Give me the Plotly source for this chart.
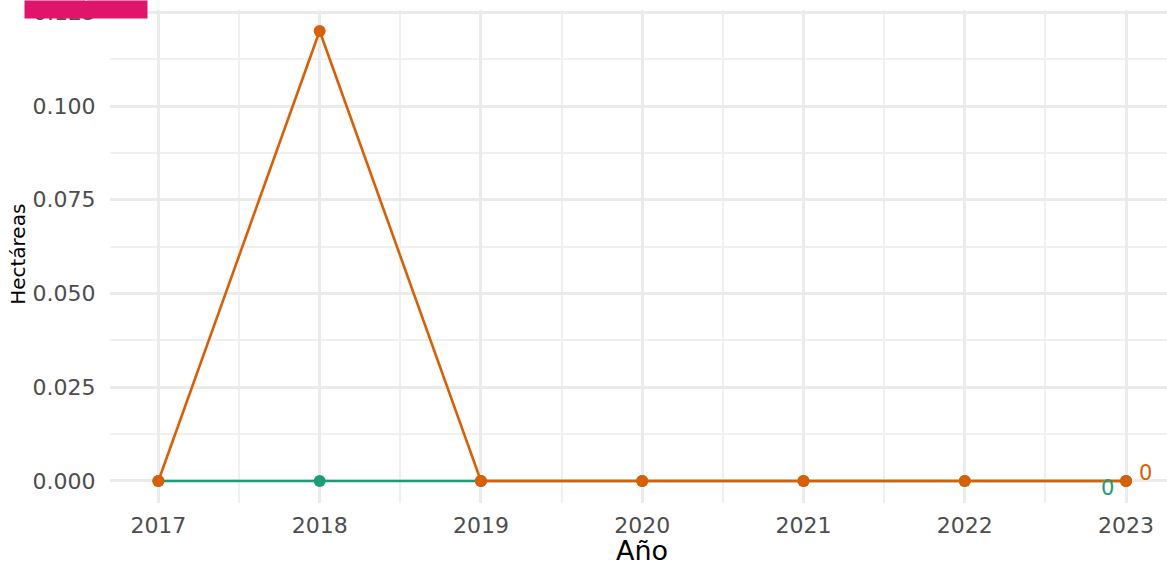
import plotly.graph_objects as go

years = [2017, 2018, 2019, 2020, 2021, 2022, 2023]
serie_verde = [0, 0, 0, 0, 0, 0, 0]
serie_naranja = [0, 0.12, 0, 0, 0, 0, 0]
y_ticks = [0, 0.025, 0.05, 0.075, 0.1, 0.125]
y_labels = ["0.000", "0.025", "0.050", "0.075", "0.100", "0.125"]
VERDE = "#1B9E77"
NARANJA = "#D95F02"
FONT = "DejaVu Sans"
TICK = dict(family=FONT, size=22, color="#4D4D4D")
W, H = 1057, 493  # panel size in px

fig = go.Figure()
for vals, col in ((serie_verde, VERDE), (serie_naranja, NARANJA)):
    fig.add_trace(go.Scatter(x=years, y=vals, mode="lines+markers",
                             line=dict(color=col, width=2.6),
                             marker=dict(color=col, size=12),
                             showlegend=False))

grid = dict(showgrid=True, gridcolor="#EBEBEB", gridwidth=2.8, zeroline=False,
            showline=False, ticks="outside", tickcolor="rgba(0,0,0,0)", tickfont=TICK)
minor_grid = dict(showgrid=True, gridcolor="#F0F0F0", gridwidth=1.6)
fig.update_layout(
    width=1167, height=565, autosize=False,
    margin=dict(l=110, r=0, t=10, b=62),
    paper_bgcolor="white", plot_bgcolor="white",
    font=dict(family=FONT),
    xaxis=dict(range=[2016.7, 2023.254], tickmode="array", tickvals=years,
               ticktext=[str(y) for y in years], ticklen=3,
               minor=dict(dtick=0.5, tick0=2017, **minor_grid), **grid),
    yaxis=dict(range=[-0.00587, 0.1256], tickmode="array", tickvals=y_ticks,
               ticktext=y_labels[:-1] + [""], ticklen=9,
               minor=dict(dtick=0.0125, tick0=0, **minor_grid), **grid),
    annotations=[
        # the 0.125 label would be dropped at the top margin, so it is placed by hand
        dict(xref="paper", x=0, xshift=-12, xanchor="right", yref="y", y=y_ticks[-1],
             text=y_labels[-1], showarrow=False, font=TICK),
        # pink badge, cut off by the top of the page, covers most of that label
        dict(xref="paper", yref="paper", x=-86/W, xanchor="left", y=(H+10)/H, yanchor="top",
             text=" ", showarrow=False, width=122, height=17, bgcolor="#E0146A", borderpad=0,
             font=dict(size=10)),
        dict(xref="paper", yref="paper", x=-24/W, xanchor="center", y=(H+10)/H, yshift=3, text="◆",
             showarrow=False, yanchor="middle", font=dict(family=FONT, size=9, color="white")),
        dict(x=years[-1], y=serie_verde[-1], text=str(serie_verde[-1]), showarrow=False,
             xshift=-19, yshift=-7, font=dict(family=FONT, size=21, color=VERDE)),
        dict(x=years[-1], y=serie_naranja[-1], text=str(serie_naranja[-1]), showarrow=False,
             xshift=19, yshift=8, font=dict(family=FONT, size=21, color=NARANJA)),
        dict(xref="x", yref="paper", x=2020, y=-47/H, yanchor="middle", text="Año", showarrow=False,
             font=dict(family=FONT, size=27, color="black")),
        dict(xref="paper", yref="y", x=-92/W, xanchor="center", y=0.0603, text="Hectáreas",
             textangle=-90, showarrow=False, font=dict(family=FONT, size=20, color="black")),
    ],
)
fig.write_html("out.html", config=dict(displayModeBar=False),
               post_script="document.body.style.margin='0';")
